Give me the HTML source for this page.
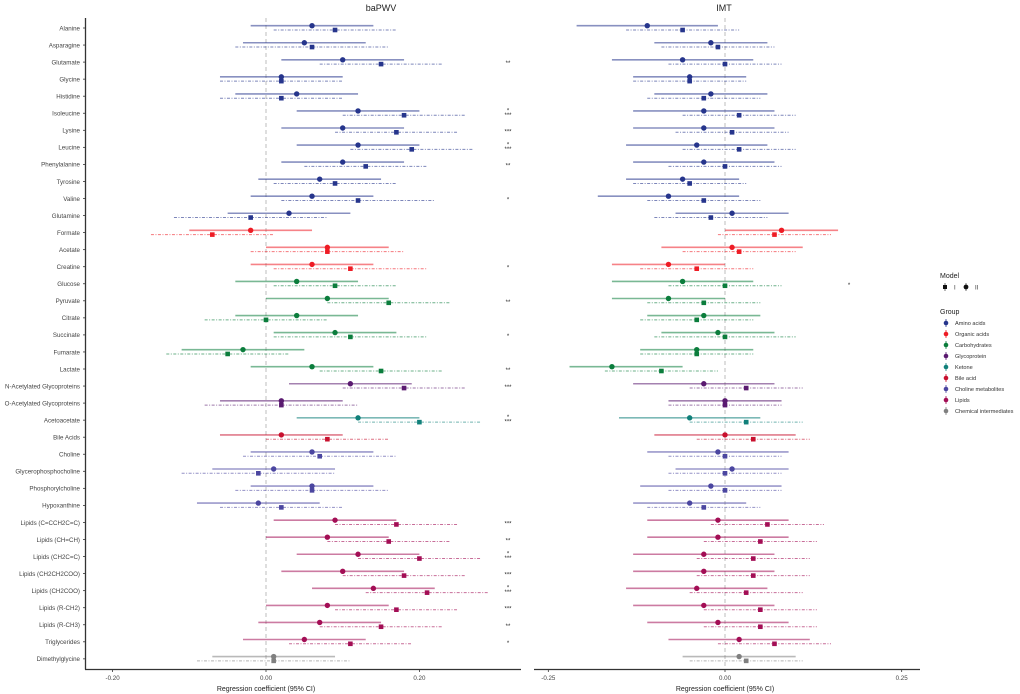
<!DOCTYPE html>
<html><head><meta charset="utf-8"><style>
body{margin:0;background:#fff;}
svg{display:block;font-family:"Liberation Sans",Arial,sans-serif;}
</style></head><body>
<svg id="c" width="1020" height="694"></svg>
<script>
const names=["Alanine","Asparagine","Glutamate","Glycine","Histidine","Isoleucine","Lysine","Leucine","Phenylalanine","Tyrosine","Valine","Glutamine","Formate","Acetate","Creatine","Glucose","Pyruvate","Citrate","Succinate","Fumarate","Lactate","N-Acetylated Glycoproteins","O-Acetylated Glycoproteins","Acetoacetate","Bile Acids","Choline","Glycerophosphocholine","Phosphorylcholine","Hypoxanthine","Lipids (C=CCH2C=C)","Lipids (CH=CH)","Lipids (CH2C=C)","Lipids (CH2CH2COO)","Lipids (CH2COO)","Lipids (R-CH2)","Lipids (R-CH3)","Triglycerides","Dimethylglycine"];
const groupOf=[0,0,0,0,0,0,0,0,0,0,0,0,1,1,1,2,2,2,2,2,2,3,3,4,5,6,6,6,6,7,7,7,7,7,7,7,7,8];
const groupNames=["Amino acids","Organic acids","Carbohydrates","Glycoprotein","Ketone","Bile acid","Choline metabolites","Lipids","Chemical intermediates"];
const groupColors=["#26358c","#ee1c25","#0b7d3c","#5a1a70","#11807a","#c8102e","#4b46a0","#a30e55","#808080"];
// baPWV (values x0.01)
const pwvIIEst=[6,5,10,2,4,12,10,12,10,7,6,3,-2,8,6,4,8,4,9,-3,6,11,2,12,2,6,1,6,-1,9,8,12,10,14,8,7,5,1];
const pwvIILo=[-2,-3,2,-6,-4,4,2,4,2,-1,-2,-5,-10,0,-2,-4,0,-4,1,-11,-2,3,-6,4,-6,-2,-7,-2,-9,1,0,4,2,6,0,-1,-3,-7];
const pwvIIHi=[14,13,18,10,12,20,18,20,18,15,14,11,6,16,14,12,16,12,17,5,14,19,10,20,10,14,9,14,7,17,16,20,18,22,16,15,13,9];
const pwvIEst=[9,6,15,2,2,18,17,19,13,9,12,-2,-7,8,11,9,16,0,11,-5,15,18,2,20,8,7,-1,6,2,17,16,20,18,21,17,15,11,1];
const pwvILo=[1,-4,7,-6,-6,10,9,11,5,1,2,-12,-15,-2,1,1,8,-8,1,-13,7,10,-8,12,0,-3,-11,-4,-6,9,8,12,10,13,9,7,3,-9];
const pwvIHi=[17,16,23,10,10,26,25,27,21,17,22,8,1,18,21,17,24,8,21,3,23,26,12,28,16,17,9,16,10,25,24,28,26,29,25,23,19,11];
const pwvStars=["","","**","","","*\n***","***","*\n***","**","","*","","","","*","","**","","*","","**","***","","*\n***","","","","","","***","**","*\n***","***","*\n***","***","**","*",""];
// IMT (values x0.01)
const imtIIEst=[-11,-2,-6,-5,-2,-3,-3,-4,-3,-6,-8,1,8,1,-8,-6,-8,-3,-1,-4,-16,-3,0,-5,0,-1,1,-2,-5,-1,-1,-3,-3,-4,-3,-1,2,2];
const imtIILo=[-21,-10,-16,-13,-10,-13,-13,-14,-13,-14,-18,-7,0,-9,-16,-16,-16,-11,-9,-12,-22,-13,-8,-15,-10,-11,-7,-12,-13,-11,-11,-13,-13,-14,-13,-11,-8,-6];
const imtIIHi=[-1,6,4,3,6,7,7,6,7,2,2,9,16,11,0,4,0,5,7,4,-6,7,8,5,10,9,9,8,3,9,9,7,7,6,7,9,12,10];
const imtIEst=[-6,-1,0,-5,-3,2,1,2,0,-5,-3,-2,7,2,-4,0,-3,-4,0,-4,-9,3,0,3,4,0,0,0,-3,6,5,4,4,3,5,5,7,3];
const imtILo=[-14,-9,-8,-13,-11,-6,-7,-6,-8,-13,-11,-10,-1,-6,-12,-8,-11,-12,-10,-12,-17,-5,-8,-5,-4,-8,-8,-8,-11,-2,-3,-4,-4,-5,-3,-3,-1,-5];
const imtIHi=[2,7,8,3,5,10,9,10,8,3,5,6,15,10,4,8,5,4,10,4,-1,11,8,11,12,8,8,8,5,14,13,12,12,11,13,13,15,11];
const imtStars=["","","","","","","","","","","","","","","","*","","","","","","","","","","","","","","","","","","","","","",""];

const NS="http://www.w3.org/2000/svg";
const svg=document.getElementById('c');
function mk(t,a,p){const e=document.createElementNS(NS,t);for(const k in a)e.setAttribute(k,a[k]);(p||svg).appendChild(e);return e;}
const rowY=i=>28+i*17.05;
const xL=v=>266+v*767;
const xR=v=>725+v*706.7;

const ax=mk('line',{x1:85.5,y1:18,x2:85.5,y2:669.5,stroke:'#333','stroke-width':1.3});

names.forEach((n,i)=>{
  const t=mk('text',{x:80,y:rowY(i)+2.3,'text-anchor':'end','font-size':6.2,fill:'#444'});
  t.textContent=n;
  
  
  mk('line',{x1:83,x2:85.5,y1:rowY(i),y2:rowY(i),stroke:'#333','stroke-width':0.8});
});

function panel(xf,x0,x1,title,tx,ticks,tickLbl,IIE,IIL,IIH,IE,IL,IH,stars,starX,pname){
  const g=mk('g',{});
  
  
  const tt=mk('text',{x:tx,y:11,'text-anchor':'middle','font-size':9,fill:'#222'},g);
  tt.textContent=title;
  
  
  mk('line',{x1:xf(0),x2:xf(0),y1:18,y2:669,stroke:'#c8c8c8','stroke-width':1.2,'stroke-dasharray':'4,3'},g);
  const xa=mk('line',{x1:x0,x2:x1,y1:669.5,y2:669.5,stroke:'#333','stroke-width':1.3},g);
  
  
  ticks.forEach((v,k)=>{
    mk('line',{x1:xf(v),x2:xf(v),y1:669.5,y2:672,stroke:'#333','stroke-width':0.8},g);
    const t=mk('text',{x:xf(v),y:680,'text-anchor':'middle','font-size':6.2,fill:'#444'},g);
    t.textContent=tickLbl[k];
    
    
  });
  const xt=mk('text',{x:xf(0),y:691,'text-anchor':'middle','font-size':7,fill:'#222'},g);
  xt.textContent='Regression coefficient (95% CI)';
  
  
  names.forEach((n,i)=>{
    const c=groupColors[groupOf[i]];const y=rowY(i);
    const yc=y-2.3, ys=y+2;
    const l2=mk('line',{x1:xf(IIL[i]/100),x2:xf(IIH[i]/100),y1:yc,y2:yc,stroke:c,'stroke-width':1.6,'stroke-opacity':0.55},g);
    
    
    const l1=mk('line',{x1:xf(IL[i]/100),x2:xf(IH[i]/100),y1:ys,y2:ys,stroke:c,'stroke-width':1,'stroke-opacity':0.6,'stroke-dasharray':'3,1.5,1,1.5'},g);
    
    
    const p2=mk('circle',{cx:xf(IIE[i]/100),cy:yc,r:2.7,fill:c},g);
    
    
    const p1=mk('rect',{x:xf(IE[i]/100)-2.3,y:ys-2.3,width:4.6,height:4.6,fill:c},g);
    
    
    if(stars[i]){
      const parts=stars[i].split('\n');
      parts.forEach((s,k)=>{
        const t=mk('text',{x:starX,y:(parts.length>1?y-1+k*4.5:y+3),'text-anchor':'middle','font-size':6,fill:'#222'},g);
        t.textContent=s;
        
        
      });
    }
  });
}
panel(xL,85,521,'baPWV',381,[-0.2,0,0.2],['-0.20','0.00','0.20'],pwvIIEst,pwvIILo,pwvIIHi,pwvIEst,pwvILo,pwvIHi,pwvStars,508,'bapwv-panel');
panel(xR,534,920,'IMT',724,[-0.25,0,0.25],['-0.25','0.00','0.25'],imtIIEst,imtIILo,imtIIHi,imtIEst,imtILo,imtIHi,imtStars,849,'imt-panel');

const lg=mk('g',{});


const mt=mk('text',{x:940,y:278,'font-size':7,fill:'#222'},lg);mt.textContent='Model';
mk('rect',{x:943,y:285,width:4,height:4,fill:'#111'},lg);
mk('line',{x1:945,x2:945,y1:283,y2:291,stroke:'#111','stroke-width':0.6},lg);
const ti=mk('text',{x:954,y:289.5,'font-size':6,fill:'#333'},lg);ti.textContent='I';
mk('circle',{cx:966,cy:287,r:2.4,fill:'#111'},lg);
mk('line',{x1:966,x2:966,y1:283,y2:291,stroke:'#111','stroke-width':0.6},lg);
const tii=mk('text',{x:975,y:289.5,'font-size':6,fill:'#333'},lg);tii.textContent='II';
const gt=mk('text',{x:940,y:314,'font-size':7,fill:'#222'},lg);gt.textContent='Group';
groupNames.forEach((n,k)=>{
  const y=323+k*11;
  mk('line',{x1:946,x2:946,y1:y-4,y2:y+4,stroke:groupColors[k],'stroke-width':0.8},lg);
  mk('circle',{cx:946,cy:y,r:2.3,fill:groupColors[k]},lg);
  const t=mk('text',{x:955,y:y+2,'font-size':5.6,fill:'#333'},lg);
  t.textContent=n;
  
  
});
</script>
</body></html>
